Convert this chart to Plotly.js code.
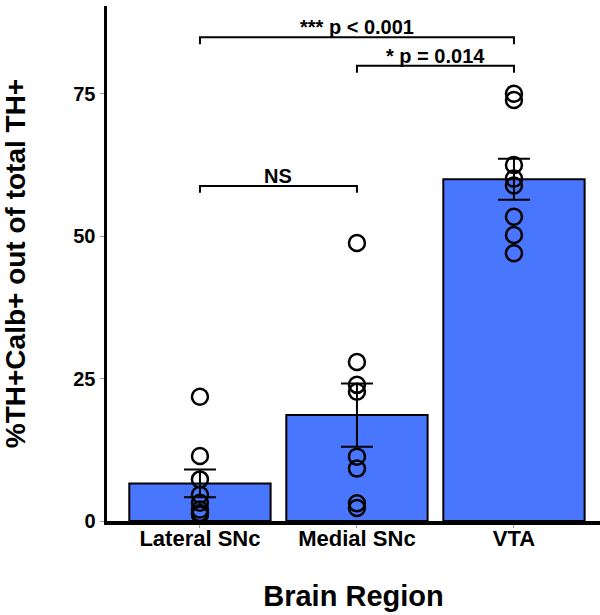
<!DOCTYPE html>
<html>
<head>
<meta charset="utf-8">
<script src="https://cdn.plot.ly/plotly-3.0.1.min.js"></script>
<style>html,body{margin:0;padding:0;background:#fff;}#chart{width:600px;height:615px;}</style>
</head>
<body>
<div id="chart"></div>
<script>
const categories = ["Lateral SNc", "Medial SNc", "VTA"];
const means = [6.6, 18.6, 60.0];
const sems = [2.45, 5.55, 3.6];
const lateralPoints = [21.8, 11.4, 7.3, 4.6, 3.2, 2.0, 1.4, 1.1];
const medialPoints = [48.8, 27.9, 23.9, 22.7, 11.3, 9.2, 3.1, 2.3];
const vtaPoints = [75.0, 73.9, 62.5, 60.1, 58.9, 53.4, 50.2, 47.0];
const comparisons = [
  {from: 0, to: 2, y: 84.9, label: "*** p < 0.001"},
  {from: 1, to: 2, y: 79.9, label: "* p = 0.014"},
  {from: 0, to: 1, y: 58.8, label: "NS"}
];

const font = "Liberation Sans, Arial, sans-serif";
const allPoints = [lateralPoints, medialPoints, vtaPoints];
const px = [], py = [];
allPoints.forEach((arr, i) => arr.forEach(v => { px.push(i); py.push(v); }));

const traces = [
  {
    type: "bar", x: [0, 1, 2], y: means, width: 0.9,
    marker: {color: "#4876FF", line: {color: "#000", width: 2}},
    error_y: {type: "data", array: sems, visible: true, color: "#000", thickness: 2, width: 16},
    hoverinfo: "skip"
  },
  {
    type: "scatter", mode: "markers", x: px, y: py,
    marker: {symbol: "circle-open", size: 16, color: "#000", line: {width: 2.5, color: "#000"}},
    hoverinfo: "skip"
  }
];

const shapes = [], annotations = [];
comparisons.forEach(c => {
  const drop = 1.2;
  shapes.push({type: "path", xref: "x", yref: "y",
    path: `M ${c.from} ${c.y - drop} L ${c.from} ${c.y} L ${c.to} ${c.y} L ${c.to} ${c.y - drop}`,
    line: {color: "#000", width: 2}});
  annotations.push({xref: "x", yref: "y", x: (c.from + c.to) / 2, y: c.y, yanchor: "bottom",
    text: "<b>" + c.label + "</b>", showarrow: false, yshift: -3,
    font: {family: font, size: 20, color: "#000"}});
});

const layout = {
  width: 600, height: 615,
  margin: {l: 107, r: 0, t: 6, b: 94},
  paper_bgcolor: "#fff", plot_bgcolor: "#fff",
  showlegend: false,
  xaxis: {
    range: [-0.592, 2.548], tickvals: [0, 1, 2], ticktext: categories.map(s => "<b>" + s + "</b>"),
    showline: true, linecolor: "#000", linewidth: 3.5, showgrid: false, zeroline: false,
    ticks: "outside", ticklen: 3, tickcolor: "#999", tickwidth: 1,
    ticklabelstandoff: -8,
    tickfont: {family: font, size: 22, color: "#000"},
    title: {text: "<b>Brain Region</b>", font: {family: font, size: 29, color: "#000"}, standoff: 37}
  },
  yaxis: {
    range: [0, 90.4], tickvals: [0, 25, 50, 75], ticktext: ["<b>0</b>", "<b>25</b>", "<b>50</b>", "<b>75</b>"],
    showline: true, linecolor: "#000", linewidth: 3.5, showgrid: false, zeroline: false,
    ticks: "outside", ticklen: 4, tickcolor: "#999", tickwidth: 1,
    tickfont: {family: font, size: 20, color: "#000"},
    title: {text: "<b>%TH+Calb+ out of total TH+</b>", font: {family: font, size: 28, color: "#000"}, standoff: 41}
  },
  shapes: shapes,
  annotations: annotations
};

Plotly.newPlot("chart", traces, layout, {staticPlot: true, displayModeBar: false});
</script>
</body>
</html>
